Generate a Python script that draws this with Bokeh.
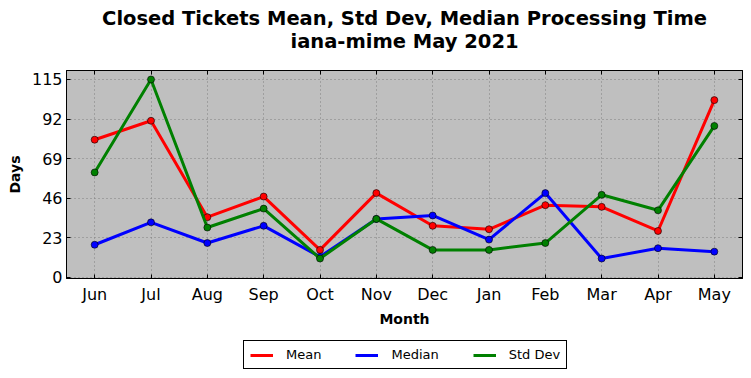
from bokeh.plotting import figure
from bokeh.layouts import column
from bokeh.models import (Range1d, FactorRange, FixedTicker, LinearAxis, CategoricalAxis,
                          Legend, LegendItem, Title)
from bokeh.embed import file_html
from bokeh.resources import INLINE

months = ["Jun", "Jul", "Aug", "Sep", "Oct", "Nov", "Dec", "Jan", "Feb", "Mar", "Apr", "May"]
mean_vals = [80, 91, 35, 47, 16, 49, 30, 28, 42, 41, 27, 103]
median_vals = [19, 32, 20, 30, 12, 34, 36, 22, 49, 11, 17, 15]
std_vals = [61, 115, 29, 40, 11, 34, 16, 16, 20, 48, 39, 88]
y_ticks = [0, 23, 46, 69, 92, 115]
series = [("Mean", mean_vals, "red"), ("Median", median_vals, "blue"),
          ("Std Dev", std_vals, "green")]

FONT = "DejaVu Sans"

p = figure(width=748, height=329, output_backend="svg", toolbar_location=None,
           x_range=FactorRange(*months), y_range=Range1d(-0.6, 120.2),
           min_border_left=66, min_border_right=6, min_border_top=70, min_border_bottom=46,
           border_fill_color="white")
p.title = None
p.background_fill_color = "#bfbfbf"
p.outline_line_color = "black"
p.outline_line_width = 1

def style_axis(ax, labels=True):
    ax.major_tick_in = 4
    ax.major_tick_out = 0
    ax.minor_tick_line_color = None
    ax.axis_line_color = "black"
    ax.major_tick_line_color = "black"
    ax.major_label_text_font = FONT
    ax.major_label_text_color = "black"
    ax.major_label_text_font_size = "16px" if labels else "0px"
    ax.axis_label_text_font = FONT
    ax.axis_label_text_font_style = "bold"
    ax.axis_label_text_font_size = "14px"
    ax.axis_label_text_color = "black"

style_axis(p.xaxis[0])
style_axis(p.yaxis[0])
p.xaxis[0].axis_label = "Month"
p.yaxis[0].axis_label = "Days"
p.yaxis[0].ticker = FixedTicker(ticks=y_ticks)
p.xaxis[0].major_label_standoff = 6
p.xaxis[0].axis_label_standoff = 4
p.yaxis[0].major_label_standoff = 4
p.yaxis[0].axis_label_standoff = 6

rax = LinearAxis(ticker=FixedTicker(ticks=y_ticks), major_label_standoff=0)
style_axis(rax, labels=False)
p.add_layout(rax, "right")

# top axis carries the subtitle as its label
tax = CategoricalAxis(major_label_standoff=0)
style_axis(tax, labels=False)
tax.axis_label = "iana-mime May 2021"
tax.axis_label_text_font_size = "19.5px"
tax.axis_label_standoff = 18
p.add_layout(tax, "above")

p.add_layout(Title(text="Closed Tickets Mean, Std Dev, Median Processing Time", align="center",
                   text_font=FONT, text_font_size="19.5px", text_font_style="bold",
                   text_color="black", standoff=-6), "above")

p.ygrid.ticker = FixedTicker(ticks=y_ticks)
for g in (p.xgrid[0], p.ygrid[0]):
    g.grid_line_color = "#7f7f7f"
    g.grid_line_dash = "1 3"
    g.grid_line_width = 1

for name, vals, col in series:
    p.line(months, vals, line_color=col, line_width=3)
    p.scatter(months, vals, size=7, fill_color=col, line_color="black", line_width=0.6)

# legend strip below the chart (its lines lie outside its range, only the key shows)
p2 = figure(width=748, height=41, output_backend="svg", toolbar_location=None,
            x_range=FactorRange(*months), y_range=Range1d(-2, -1),
            x_axis_type=None, y_axis_type=None,
            min_border_left=66, min_border_right=6, min_border_top=0, min_border_bottom=0)
p2.title = None
p2.outline_line_color = None
p2.background_fill_color = "white"
items = []
for name, vals, col in series:
    r = p2.line(months, vals, line_color=col, line_width=3)
    items.append(LegendItem(label=name, renderers=[r]))

legend = Legend(items=items, orientation="horizontal", location=(177, 1),
                label_text_font=FONT, label_text_font_size="13px", label_text_color="black",
                border_line_color="black", border_line_width=1, border_line_alpha=1,
                background_fill_color="white", background_fill_alpha=1,
                glyph_width=23, glyph_height=14, label_standoff=13, spacing=34,
                padding=6, margin=0, label_height=14)
p2.add_layout(legend, "center")

layout = column(p, p2, spacing=0)
open("out.html", "w").write(file_html(layout, INLINE))
